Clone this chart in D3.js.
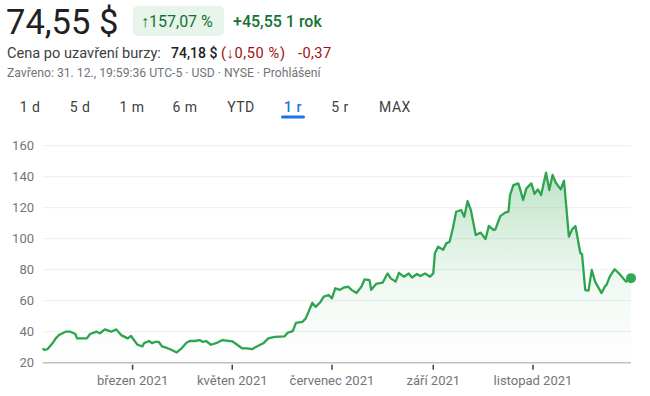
<!DOCTYPE html>
<html><head><meta charset="utf-8">
<script src="https://cdn.jsdelivr.net/npm/d3@7"></script>
<style>
html,body{margin:0;padding:0;background:#fff;}
svg{display:block;font-family:Roboto,Arial,sans-serif;}
</style></head>
<body><svg id="c" width="650" height="396"></svg>
<script>
const dates = ["2021-01-05","2021-01-06","2021-01-08","2021-01-11","2021-01-13","2021-01-15","2021-01-19","2021-01-22","2021-01-25","2021-01-26",
"2021-02-01","2021-02-03","2021-02-07","2021-02-09","2021-02-12","2021-02-16","2021-02-19","2021-02-22","2021-02-26","2021-02-28",
"2021-03-04","2021-03-07","2021-03-08","2021-03-10","2021-03-11","2021-03-13","2021-03-15","2021-03-17","2021-03-19","2021-03-21",
"2021-03-24","2021-03-28","2021-03-31","2021-04-03","2021-04-05","2021-04-08","2021-04-11","2021-04-13","2021-04-15","2021-04-18",
"2021-04-22","2021-04-25","2021-05-01","2021-05-04","2021-05-07","2021-05-10","2021-05-13","2021-05-16","2021-05-20","2021-05-23",
"2021-05-27","2021-06-02","2021-06-04","2021-06-07","2021-06-09","2021-06-13","2021-06-15","2021-06-19","2021-06-21","2021-06-24",
"2021-06-26","2021-06-29","2021-07-01","2021-07-03","2021-07-06","2021-07-08","2021-07-11","2021-07-13","2021-07-16","2021-07-19",
"2021-07-21","2021-07-24","2021-07-25","2021-07-28","2021-08-01","2021-08-04","2021-08-06","2021-08-09","2021-08-11","2021-08-14",
"2021-08-17","2021-08-19","2021-08-22","2021-08-24","2021-08-27","2021-08-30","2021-09-01","2021-09-02","2021-09-04","2021-09-07",
"2021-09-09","2021-09-11","2021-09-13","2021-09-15","2021-09-18","2021-09-20","2021-09-22","2021-09-24","2021-09-27","2021-09-30",
"2021-10-03","2021-10-05","2021-10-08","2021-10-09","2021-10-12","2021-10-15","2021-10-17","2021-10-18","2021-10-20","2021-10-23",
"2021-10-24","2021-10-26","2021-10-28","2021-10-31","2021-11-02","2021-11-04","2021-11-06","2021-11-09","2021-11-11","2021-11-13",
"2021-11-15","2021-11-18","2021-11-20","2021-11-23","2021-11-25","2021-11-27","2021-11-30","2021-12-01","2021-12-03","2021-12-05",
"2021-12-07","2021-12-09","2021-12-13","2021-12-15","2021-12-16","2021-12-18","2021-12-21","2021-12-24","2021-12-28","2021-12-31"];
const prices = [29.3,28.2,28.8,32.5,35.7,37.9,40,40,38.5,35.7,
35.7,38.5,40,39,41.5,40,41.5,37.8,35.7,37.2,
31.6,30.5,32.6,33.5,34,32.6,33.5,33.5,30.5,29.9,
28.7,26.6,29.3,32.9,34,34,34.6,33.4,34,31.6,
33,34.6,33.8,31.6,29.3,29.3,28.7,30.5,32.5,35.7,
36.7,37,39.4,40.4,45.7,46.4,48.6,58.7,56,59.2,
62.6,63.7,61.5,68,67,68.4,69,67,65,69,
73.8,73.3,67,70.8,71.6,77.6,74.4,72.3,78,75.5,
77.6,75,77.2,75.9,77.6,75.5,77.6,90.6,94.9,92.8,
97,98,106.7,117.4,118.5,114.2,124.3,118.5,102.4,103.9,
99.8,108.2,105.6,106,114.6,116.8,117.4,128.2,134.6,135.7,
132.5,125,132.5,135.7,128.9,131.8,128.2,142.6,131.4,141.1,
136.1,131.8,137.4,101.3,106,108.2,90.6,90.2,66.9,66.5,
79.8,72.3,64.9,69.2,70.2,75.5,80.3,77.2,72.3,74.55];
const yTicks = [20,40,60,80,100,120,140,160];
const xTickDates = ["2021-03-01","2021-05-01","2021-07-01","2021-09-01","2021-11-01"];
const xTickLabels = ["březen 2021","květen 2021","červenec 2021","září 2021","listopad 2021"];
const tabs = ["1 d","5 d","1 m","6 m","YTD","1 r","5 r","MAX"];
const activeTab = "1 r";

const parse = d3.timeParse("%Y-%m-%d");
const data = dates.map((d,i)=>({date:parse(d), v:prices[i]}));
const svg = d3.select("#c");

// Header
svg.append("text").attr("x",6).attr("y",34).attr("font-size",34.5).attr("fill","#202124").text("74,55 $");
svg.append("rect").attr("x",133).attr("y",6).attr("width",91).attr("height",30).attr("rx",5).attr("fill","#e6f4ea");
svg.append("text").attr("x",141).attr("y",26.5).attr("font-size",16).attr("fill","#137333").text("↑157,07 %");
svg.append("text").attr("x",233).attr("y",26.5).attr("font-size",16).attr("font-weight",500).attr("fill","#137333").text("+45,55 1 rok");

svg.append("text").attr("x",7).attr("y",58).attr("font-size",14.6).attr("fill","#3c4043").text("Cena po uzavření burzy:");
svg.append("text").attr("x",171).attr("y",58).attr("font-size",14).attr("font-weight",500).attr("fill","#202124").text("74,18 $");
svg.append("text").attr("x",221).attr("y",58).attr("font-size",14.6).attr("letter-spacing",0.6).attr("fill","#a50e0e").text("(↓0,50 %)");
svg.append("text").attr("x",298).attr("y",58).attr("font-size",14.6).attr("letter-spacing",0.4).attr("fill","#a50e0e").text("-0,37");
svg.append("text").attr("x",7).attr("y",77).attr("font-size",12.2).attr("fill","#70757a")
  .text("Zavřeno: 31. 12., 19:59:36 UTC-5 · USD · NYSE · Prohlášení");

const tabX = [30,80,132,185,241,293,340,395];
tabs.forEach((t,i)=>{
  svg.append("text").attr("x",tabX[i]).attr("y",112).attr("text-anchor","middle").attr("font-size",14)
    .attr("letter-spacing",0.5).attr("font-weight",t===activeTab?500:400)
    .attr("fill",t===activeTab?"#1a73e8":"#3c4043").text(t);
  if(t===activeTab) svg.append("rect").attr("x",tabX[i]-12).attr("y",115.5).attr("width",24).attr("height",3).attr("rx",1.5).attr("fill","#1a73e8");
});

// Chart
const x = d3.scaleTime().domain([parse("2021-01-05"),parse("2021-12-31")]).range([42.7,631]);
const y = d3.scaleLinear().domain([20,160]).range([362.7,145.7]);

const defs = svg.append("defs");
const g = defs.append("linearGradient").attr("id","gr").attr("gradientUnits","userSpaceOnUse")
  .attr("x1",0).attr("x2",0).attr("y1",y(145)).attr("y2",y(20));
g.append("stop").attr("offset",0).attr("stop-color","#34a853").attr("stop-opacity",0.32);
g.append("stop").attr("offset",0.6).attr("stop-color","#34a853").attr("stop-opacity",0.07);
g.append("stop").attr("offset",1).attr("stop-color","#34a853").attr("stop-opacity",0.0);

svg.append("g").selectAll("line").data(yTicks.filter(t=>t>20)).join("line")
  .attr("x1",42.7).attr("x2",631).attr("y1",d=>y(d)).attr("y2",d=>y(d))
  .attr("stroke","#eceff1").attr("stroke-width",1);
svg.append("g").selectAll("text").data(yTicks).join("text")
  .attr("x",34).attr("y",d=>y(d)+4.5).attr("text-anchor","end").attr("font-size",13).attr("fill","#70757a").text(d=>d);

svg.append("path").datum(data).attr("fill","url(#gr)")
  .attr("d",d3.area().x(d=>x(d.date)).y0(y(20)).y1(d=>y(d.v)).curve(d3.curveLinear));

svg.append("line").attr("x1",42.7).attr("x2",631).attr("y1",y(20)).attr("y2",y(20)).attr("stroke","#bdc1c6").attr("stroke-width",1.5);
xTickDates.forEach((d,i)=>{
  const xx = x(parse(d));
  svg.append("line").attr("x1",xx).attr("x2",xx).attr("y1",y(20)+2).attr("y2",y(20)+7).attr("stroke","#3c4043").attr("stroke-width",1.5);
  svg.append("text").attr("x",xx).attr("y",385).attr("text-anchor","middle").attr("font-size",13).attr("fill","#70757a").text(xTickLabels[i]);
});

svg.append("path").datum(data).attr("fill","none").attr("stroke","#2ea44f").attr("stroke-width",2.3).attr("stroke-linejoin","round")
  .attr("d",d3.line().x(d=>x(d.date)).y(d=>y(d.v)));
const last = data[data.length-1];
svg.append("circle").attr("cx",x(last.date)).attr("cy",y(last.v)).attr("r",5).attr("fill","#34a853");
</script></body></html>
